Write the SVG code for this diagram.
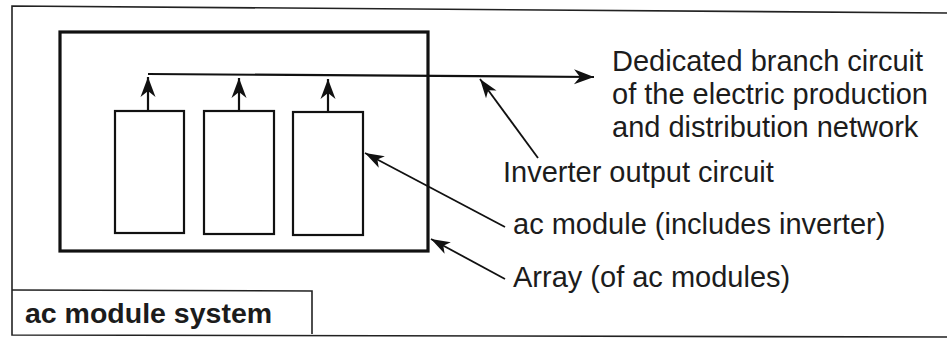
<svg xmlns="http://www.w3.org/2000/svg" width="947" height="339" viewBox="0 0 947 339">
  <defs>
    <style>
      .txt { font-family: "Liberation Sans", Arial, Helvetica, sans-serif; font-size: 29px; fill: #1c1c1c; }
      .bold { font-weight: bold; font-size: 28.5px; }
      .frame { fill: none; stroke: #222; stroke-width: 1.6; }
      .box { fill: #fff; stroke: #111; stroke-width: 2.2; }
      .array { fill: none; stroke: #111; stroke-width: 3.2; }
      .wire { fill: none; stroke: #111; stroke-width: 2.2; }
      .leader { fill: none; stroke: #111; stroke-width: 1.8; }
    </style>
    <marker id="ah" viewBox="-22 -8 24 16" refX="0" refY="0" markerWidth="24" markerHeight="16" markerUnits="userSpaceOnUse" orient="auto">
      <path d="M0,0 L-20,-7.5 L-14,0 L-20,7.5 Z" fill="#111"/>
    </marker>
    <marker id="ahs" viewBox="-22 -8 24 16" refX="0" refY="0" markerWidth="24" markerHeight="16" markerUnits="userSpaceOnUse" orient="auto">
      <path d="M0,0 L-19,-6.5 L-14,0 L-19,6.5 Z" fill="#111"/>
    </marker>
  </defs>
  <rect width="947" height="339" fill="#fff"/>

  <g id="system-frame">
    <path class="frame" d="M947,13 L12,6 L12,335 L947,337"/>
  </g>

  <g id="system-label">
    <path class="frame" d="M12,290 L312,291 L312,334"/>
    <text class="txt bold" x="25" y="323">ac module system</text>
  </g>

  <g id="array">
    <rect class="array" x="60" y="32" width="368" height="219"/>
  </g>

  <g id="module-1">
    <rect class="box" x="115" y="111" width="69" height="122"/>
  </g>
  <g id="module-2">
    <rect class="box" x="204" y="111" width="70" height="123"/>
  </g>
  <g id="module-3">
    <rect class="box" x="293" y="112" width="70" height="123"/>
  </g>

  <g id="connectors">
    <line class="wire" x1="148" y1="74" x2="594" y2="77" marker-end="url(#ah)"/>
    <line class="wire" x1="148" y1="111" x2="148" y2="77" marker-end="url(#ah)"/>
    <line class="wire" x1="239" y1="111" x2="239" y2="78" marker-end="url(#ah)"/>
    <line class="wire" x1="328" y1="112" x2="328" y2="79" marker-end="url(#ah)"/>
    <line class="leader" x1="538" y1="158" x2="480" y2="79" marker-end="url(#ahs)"/>
    <line class="leader" x1="505" y1="227" x2="365" y2="153" marker-end="url(#ahs)"/>
    <line class="leader" x1="505" y1="279" x2="431" y2="239" marker-end="url(#ahs)"/>
  </g>

  <g id="labels">
    <text class="txt" x="612" y="71">Dedicated branch circuit</text>
    <text class="txt" x="612" y="104">of the electric production</text>
    <text class="txt" x="612" y="137">and distribution network</text>
    <text class="txt" x="503" y="182">Inverter output circuit</text>
    <text class="txt" x="513" y="234">ac module (includes inverter)</text>
    <text class="txt" x="513" y="287">Array (of ac modules)</text>
  </g>
</svg>
